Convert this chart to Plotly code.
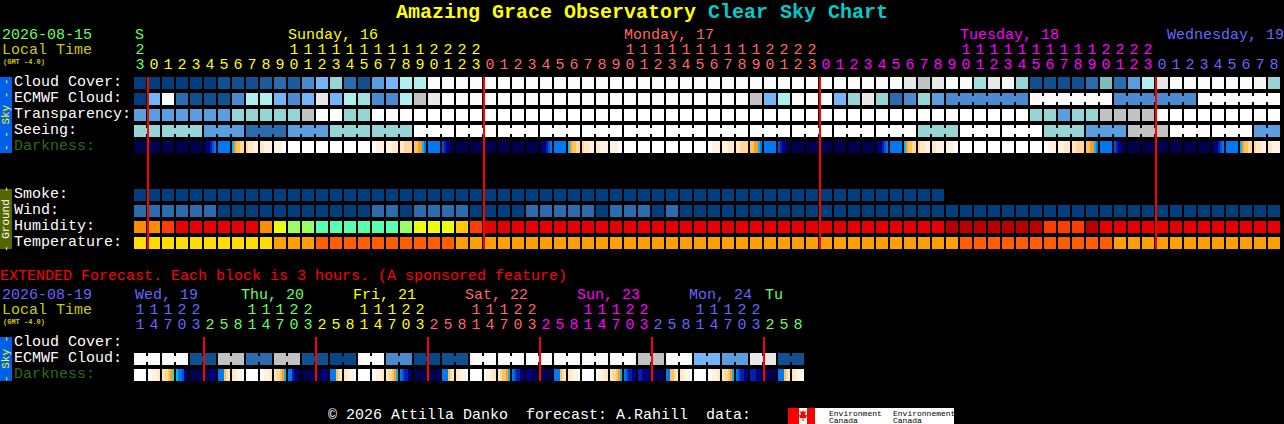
import plotly.graph_objects as go

# hour shown over each column
HOURS_TOP = [23,
             0,1,2,3,4,5,6,7,8,9,10,11,12,13,14,15,16,17,18,19,20,21,22,23,
             0,1,2,3,4,5,6,7,8,9,10,11,12,13,14,15,16,17,18,19,20,21,22,23,
             0,1,2,3,4,5,6,7,8,9,10,11,12,13,14,15,16,17,18,19,20,21,22,23,
             0,1,2,3,4,5,6,7,8]
HOURS_EXT = [11,14,17,20,23,
             2,5,8,11,14,17,20,23,
             2,5,8,11,14,17,20,23,
             2,5,8,11,14,17,20,23,
             2,5,8,11,14,17,20,23,
             2,5,8,11,14,17,20,23,
             2,5,8]

DAYS_TOP = ["S", "Sunday, 16", "Monday, 17", "Tuesday, 18", "Wednesday, 19"]
DAYS_EXT = ["Wed, 19", "Thu, 20", "Fri, 21", "Sat, 22", "Sun, 23", "Mon, 24", "Tu"]

# cloud percent
CLOUD_COVER = [0,0,0,0,0,0,10,10,10,15,
               20,15,30,50,60,20,10,40,50,70,
               70,100,100,100,100,100,100,100,100,100,
               100,100,100,100,100,100,100,100,100,100,
               100,100,100,100,100,100,100,100,100,100,
               100,100,100,100,100,90,80,90,100,100,
               65,90,95,60,10,10,10,10,20,55,
               20,40,70,90,100,100,100,100,100,100,
               95,60]
ECMWF_CLOUD = [0,50,100,20,10,10,10,30,70,70,
               50,30,50,90,50,70,65,30,30,70,
               80,90,100,100,100,100,100,100,100,100,
               100,100,100,100,100,100,100,100,100,100,
               100,100,100,100,80,50,70,100,100,100,
               50,60,90,60,20,30,60,40,30,30,
               30,30,30,30,100,100,100,100,100,100,
               30,30,30,30,30,30,100,100,100,100,
               100,100]
TRANSPARENCY = [40,40,40,40,40,40,40,60,60,60,
                60,60,80,100,100,60,60,100,100,100,
                100,100,100,100,100,100,100,100,100,100,
                100,100,100,100,100,100,100,100,100,100,
                100,100,100,100,100,100,100,100,100,100,
                100,100,100,100,100,100,100,100,100,100,
                100,100,100,100,60,60,40,60,60,80,
                80,80,80,100,100,100,100,100,100,100,
                100,100]
SEEING = [60,60,60,60,60,40,40,40,20,20,
          20,40,40,40,60,60,60,60,60,60,
          100,100,100,100,100,100,100,100,100,100,
          100,100,100,100,100,100,100,100,100,100,
          100,100,100,100,100,100,100,100,100,100,
          100,100,100,100,100,100,60,60,60,100,
          100,100,100,100,100,60,60,60,40,40,
          40,80,80,80,100,100,100,100,100,100,
          40,40]
SMOKE = [0,0,0,0,0,0,0,0,0,0,
         0,0,0,0,0,0,0,0,0,0,
         0,0,0,0,0,0,0,0,0,0,
         0,0,0,0,0,0,0,0,0,0,
         0,0,0,0,0,0,0,0,0,0,
         0,0,0,0,0,0,0,0]
WIND = [11,11,11,11,11,11,5,5,5,5,
        5,5,5,5,5,5,5,11,11,5,
        11,11,11,11,5,5,5,5,11,11,
        11,11,11,5,11,11,11,5,11,5,
        5,5,5,5,5,5,5,5,5,5,
        5,5,5,5,5,5,5,5,5,5,
        5,5,5,5,5,5,5,5,5,5,
        5,5,5,5,5,5,5,5,5,5,
        5,5]
HUMIDITY = [80,80,85,90,90,90,90,90,90,80,
            70,65,65,60,60,60,60,60,60,65,
            70,70,70,75,85,90,90,90,90,90,
            90,90,90,90,90,90,90,90,90,90,
            90,90,90,90,90,90,90,90,90,90,
            90,90,90,90,90,90,90,90,95,95,
            95,95,95,95,95,85,85,85,95,90,
            90,90,90,90,90,90,90,90,90,90,
            90,90]
TEMPERATURE = [68,68,68,68,68,68,68,68,68,68,
               72,72,72,77,77,77,77,77,77,77,
               77,77,77,72,72,72,72,72,72,72,
               72,72,72,72,72,72,72,72,72,72,
               72,72,72,72,72,72,72,72,72,72,
               72,72,72,72,72,72,72,72,72,77,
               77,77,77,77,77,77,77,77,77,77,
               72,72,72,72,72,72,72,72,72,72,
               72,72]
ECMWF_EXT = [100,100,100,100,10,10,80,80,20,20,80,80,
             10,10,5,5,100,100,30,30,5,5,10,10,
             100,100,100,100,100,100,100,100,100,100,100,100,
             80,80,100,100,50,50,40,40,90,90,10,10]

# how many blocks are joined together along the row
SEEING_GROUPS = [2,3,3,3,3,3,3,3,3,3,3,3,3,3,3,3,3,3,3,3,3,3,3,3,3,3,3,2]
ECMWF_GROUPS = [1,1,1,1,1,1,1,1,1,1,1,1,1,1,1,1,1,1,1,1,
                1,1,1,1,1,1,1,1,1,1,1,1,1,1,1,1,1,1,1,1,
                1,1,1,1,1,1,1,1,1,1,1,1,1,1,1,1,1,1,6,6,6,6]
ECMWF_EXT_GROUPS = [2,2,2,2,2,2,2,2,2,2,2,2,2,2,2,2,2,2,2,2,2,2,2,2]

# darkness blocks shade across the block, so each one is six tones left to right
DARKNESS_TOP = ["aaaaaa","aaaaaa","aaaaaa","aaaaaa","aaaaaa","abbcde","eeeeee","fghhii","ijjjkk","jjkkkk",
                "kkkkll","llllll","llllll","llllll","llllll","llllll","llllll","llkkkk","kkkjjj","jjiiii",
                "hhggfe","eeeeee","dcbbaa","aaaaaa","aaaaaa","aaaaaa","aaaaaa","aaaaaa","aaaaaa","abbcde",
                "eeeeee","fghhii","ijjjkk","jjkkkk","kkkkll","llllll","llllll","llllll","llllll","llllll",
                "llllll","llkkkk","kkkjjj","jjiiii","hhggfe","eeeeee","dcbbaa","aaaaaa","aaaaaa","aaaaaa",
                "aaaaaa","aaaaaa","aaaaaa","abbcde","eeeeee","fghhii","ijjjkk","jjkkkk","kkkkll","llllll",
                "llllll","llllll","llllll","llllll","llllll","llkkkk","kkkjjj","jjiiii","hhggfe","eeeeee",
                "dcbbaa","aaaaaa","aaaaaa","aaaaaa","aaaaaa","aaaaaa","aaaaaa","abbcde","eeeeee","fghhii",
                "ijjjkk","jjkkkk"]
DARKNESS_EXT = ["llllll","llkkkj","jiihgm","feedba","aaaaaa","aaabbb","eeehij","jjkkkl",
                "llllll","llkkkj","jiihgf","eecbba","aaaaaa","aaabbb","eeehij","jjkkkl",
                "llllll","llkkkj","jiihgf","edccba","aaaaaa","aaaaab","eeehij","jjkkkl",
                "llllll","lkkkjj","jihhgf","edccbb","bbbaaa","aaaaaa","eeehij","jjkkkl",
                "llllll","lkkkjj","jiihgf","edccbb","ccbbbb","aaaaaa","eehhij","jjkkkl",
                "llllll","llkkkj","jiihgf","edccbb","cccbbb","aaaaaa","eeehij","jjkkkl"]

# colours
CLOUD_COLORS = {0:"#003E7E", 5:"#084786", 10:"#10508F", 15:"#1D5C9C", 20:"#2B6CAF", 30:"#4A8ACF",
                40:"#5B9EE0", 50:"#74B4F8", 55:"#80BCBC", 60:"#95D5D5", 65:"#A2E0E0", 70:"#AFEFEF",
                80:"#C2C2C2", 90:"#E8E8E8", 95:"#F5F5F5", 100:"#FBFBFB"}
SKY_COLORS = {20:"#2B6CAF", 40:"#5B9EE0", 60:"#95D5D5", 80:"#C2C2C2", 100:"#FFFFFF"}
SMOKE_COLORS = {0:"#003E7E"}
WIND_COLORS = {5:"#003E7E", 11:"#2B6CAF"}
HUMIDITY_COLORS = {60:"#59FFB0", 65:"#99FF66", 70:"#E8FF10", 75:"#FFC800", 80:"#FF8C00",
                   85:"#FF3C00", 90:"#E60000", 95:"#B80000"}
TEMPERATURE_COLORS = {68:"#FFDD00", 72:"#FF9F00", 77:"#FF5F00"}
TONE_COLORS = {"a":"#00004E", "b":"#000080", "c":"#0020B0", "d":"#0050D8", "e":"#0078F0", "f":"#00B8F8",
               "g":"#F8A020", "h":"#FFC060", "i":"#FFD89A", "j":"#FFE8C4", "k":"#FFF2E0", "l":"#FFFFFF",
               "m":"#50D0A0"}
DAY_COLORS_TOP = ["#66FF66", "#FFFF00", "#FF6666", "#FF00FF", "#6666FF"]
DAY_COLORS_EXT = ["#6666FF", "#66FF66", "#FFFF00", "#FF6666", "#FF00FF", "#6666FF", "#66FF66"]

# layout, all in pixels of the 1284x424 picture
FONT = "Liberation Mono"
LEFT = 134
PITCH = 14
ROW_PITCH = 16
ROWS_TOP = {"Cloud Cover:": 83, "ECMWF Cloud:": 99, "Transparency:": 115, "Seeing:": 131, "Darkness:": 147,
            "Smoke:": 195, "Wind:": 211, "Humidity:": 227, "Temperature:": 243}
ROWS_EXT = {"Cloud Cover:": 343, "ECMWF Cloud:": 359, "Darkness:": 375}
DAY_X_TOP = [135, 288, 624, 960, 1167]
DAY_X_EXT = [135, 241, 353, 465, 577, 689, 765]

fig = go.Figure()


def stepped(palette):
    colors = list(palette.values())
    scale = []
    for i, c in enumerate(colors):
        scale.append([i / len(colors), c])
        scale.append([(i + 1) / len(colors), c])
    return scale


def add_blocks(values, palette, y):
    keys = list(palette.keys())
    z = [keys.index(v) + 0.5 for v in values]
    fig.add_trace(go.Heatmap(z=[z], x0=LEFT + 6, dx=PITCH, y0=y, dy=ROW_PITCH, xgap=2, ygap=4,
                             colorscale=stepped(palette), zmin=0, zmax=len(keys),
                             showscale=False, hoverinfo="skip"))


def add_links(values, groups, palette, y):
    # narrow band that joins blocks of one group, on half a column steps
    keys = list(palette.keys())
    z = [None] * (2 * len(values))
    col = 0
    for size in groups:
        for c in range(col, col + size - 1):
            z[2 * c + 1] = keys.index(values[c]) + 0.5
            z[2 * c + 2] = keys.index(values[c + 1]) + 0.5
        col += size
    fig.add_trace(go.Heatmap(z=[z], x0=LEFT + 2.5, dx=PITCH / 2, y0=y, dy=ROW_PITCH, ygap=10,
                             colorscale=stepped(palette), zmin=0, zmax=len(keys),
                             showscale=False, hoverinfo="skip"))


def add_darkness(cells, y):
    keys = list(TONE_COLORS.keys())
    z = []
    for cell in cells:
        z += [keys.index(t) + 0.5 for t in cell]
        z.append(None)
    fig.add_trace(go.Heatmap(z=[z], x0=LEFT + 1, dx=PITCH / 7, y0=y, dy=ROW_PITCH, ygap=4,
                             colorscale=stepped(TONE_COLORS), zmin=0, zmax=len(keys),
                             showscale=False, hoverinfo="skip"))


def add_hours(hours, day_colors, y_tens, y_ones):
    x, y, text, color = [], [], [], []
    day = 0
    for col, hour in enumerate(hours):
        if col > 0 and hour < hours[col - 1]:
            day += 1
        px = LEFT + PITCH * col + 6
        x.append(px)
        y.append(y_ones)
        text.append(str(hour % 10))
        color.append(day_colors[day])
        if hour >= 10:
            x.append(px)
            y.append(y_tens)
            text.append(str(hour // 10))
            color.append(day_colors[day])
    fig.add_trace(go.Scatter(x=x, y=y, text=text, mode="text", hoverinfo="skip",
                             textposition="middle center", cliponaxis=False,
                             textfont=dict(family=FONT, size=15, color=color)))


def add_midnights(hours, y0, y1):
    x, y = [], []
    for col in range(1, len(hours)):
        if hours[col] < hours[col - 1]:
            x += [LEFT + PITCH * col, LEFT + PITCH * col, None]
            y += [y0, y1, None]
    fig.add_trace(go.Scatter(x=x, y=y, mode="lines", hoverinfo="skip",
                             line=dict(color="#FF0000", width=2)))


def label(x, y, text, color="#FFFFFF", size=15, bold=False, angle=0, anchor="left"):
    fig.add_annotation(x=x, y=y, text=text, showarrow=False, xanchor=anchor, yanchor="middle",
                       textangle=angle, borderpad=0, borderwidth=0,
                       font=dict(family=FONT, size=size, color=color, weight="bold" if bold else "normal"))


def band(y0, y1, color):
    fig.add_shape(type="rect", x0=0, x1=12, y0=y0, y1=y1, fillcolor=color, line_width=0, layer="below")


# main chart
add_blocks(CLOUD_COVER, CLOUD_COLORS, ROWS_TOP["Cloud Cover:"])
add_blocks(ECMWF_CLOUD, CLOUD_COLORS, ROWS_TOP["ECMWF Cloud:"])
add_links(ECMWF_CLOUD, ECMWF_GROUPS, CLOUD_COLORS, ROWS_TOP["ECMWF Cloud:"])
add_blocks(TRANSPARENCY, SKY_COLORS, ROWS_TOP["Transparency:"])
add_blocks(SEEING, SKY_COLORS, ROWS_TOP["Seeing:"])
add_links(SEEING, SEEING_GROUPS, SKY_COLORS, ROWS_TOP["Seeing:"])
add_darkness(DARKNESS_TOP, ROWS_TOP["Darkness:"])
add_blocks(SMOKE, SMOKE_COLORS, ROWS_TOP["Smoke:"])
add_blocks(WIND, WIND_COLORS, ROWS_TOP["Wind:"])
add_blocks(HUMIDITY, HUMIDITY_COLORS, ROWS_TOP["Humidity:"])
add_blocks(TEMPERATURE, TEMPERATURE_COLORS, ROWS_TOP["Temperature:"])
add_midnights(HOURS_TOP, 77, 249)
add_hours(HOURS_TOP, DAY_COLORS_TOP, 50, 65)

# extended forecast
add_blocks(ECMWF_EXT, CLOUD_COLORS, ROWS_EXT["ECMWF Cloud:"])
add_links(ECMWF_EXT, ECMWF_EXT_GROUPS, CLOUD_COLORS, ROWS_EXT["ECMWF Cloud:"])
add_darkness(DARKNESS_EXT, ROWS_EXT["Darkness:"])
add_midnights(HOURS_EXT, 337, 381)
add_hours(HOURS_EXT, DAY_COLORS_EXT, 310, 325)

# titles and labels
label(396, 12, "Amazing Grace Observatory", "#FFFF00", size=20, bold=True)
label(708, 12, "Clear Sky Chart", "#00CCCC", size=20, bold=True)
label(2, 35, "2026-08-15", "#66FF66")
label(2, 50, "Local Time", "#CCCC00")
label(3, 62, "(GMT -4.0)", "#CCCC00", size=7, bold=True)
label(2, 295, "2026-08-19", "#6666FF")
label(2, 310, "Local Time", "#CCCC00")
label(3, 322, "(GMT -4.0)", "#CCCC00", size=7, bold=True)
label(0, 276, "EXTENDED Forecast. Each block is 3 hours. (A sponsored feature)", "#FF0000")
label(328, 415, "© 2026 Attilla Danko\u00a0\u00a0forecast: A.Rahill\u00a0\u00a0data:")

for text, x, color in zip(DAYS_TOP, DAY_X_TOP, DAY_COLORS_TOP):
    label(x, 35, text, color)
for text, x, color in zip(DAYS_EXT, DAY_X_EXT, DAY_COLORS_EXT):
    label(x, 295, text, color)

for name, y in ROWS_TOP.items():
    label(14, y - 1, name, "#2E6B1E" if name == "Darkness:" else "#FFFFFF")
for name, y in ROWS_EXT.items():
    label(14, y - 1, name, "#2E6B1E" if name == "Darkness:" else "#FFFFFF")

# side bands
band(77, 153, "#0060E8")
band(189, 249, "#556600")
band(337, 381, "#0060E8")
label(6, 115, "- - Sky - -", "#FFFF00", size=11, angle=-90, anchor="center")
label(6, 219, "- Ground -", "#FFFFFF", size=11, angle=-90, anchor="center")
label(6, 359, "- Sky -", "#FFFF00", size=11, angle=-90, anchor="center")

# Environment Canada logo
fig.add_shape(type="rect", x0=788, x1=954, y0=408, y1=424, fillcolor="#FFFFFF", line_width=0)
fig.add_shape(type="rect", x0=788, x1=799, y0=408, y1=424, fillcolor="#FF0000", line_width=0)
fig.add_shape(type="rect", x0=807, x1=815, y0=408, y1=424, fillcolor="#FF0000", line_width=0)
fig.add_shape(type="path", fillcolor="#FF0000", line_width=0,
              path="M 803 410 L 804 412 L 806 411 L 805 415 L 807 415 L 806 418 L 803.5 418 L 803.5 421 "
                   "L 802.5 421 L 802.5 418 L 800 418 L 799 415 L 801 415 L 800 411 L 802 412 Z")
label(829, 413, "Environment", "#000000", size=8)
label(829, 420, "Canada", "#000000", size=8)
label(893, 413, "Environnement", "#000000", size=8)
label(893, 420, "Canada", "#000000", size=8)

fig.update_layout(
    width=1284, height=424,
    margin=dict(l=0, r=0, t=0, b=0),
    paper_bgcolor="#000000", plot_bgcolor="#000000",
    showlegend=False,
    xaxis=dict(range=[0, 1284], visible=False, fixedrange=True),
    yaxis=dict(range=[424, 0], visible=False, fixedrange=True),
)

fig.write_html("out.html", config=dict(displayModeBar=False),
               post_script="document.body.style.margin='0';document.body.style.background='#000';"
                           "document.body.style.overflow='hidden';")
